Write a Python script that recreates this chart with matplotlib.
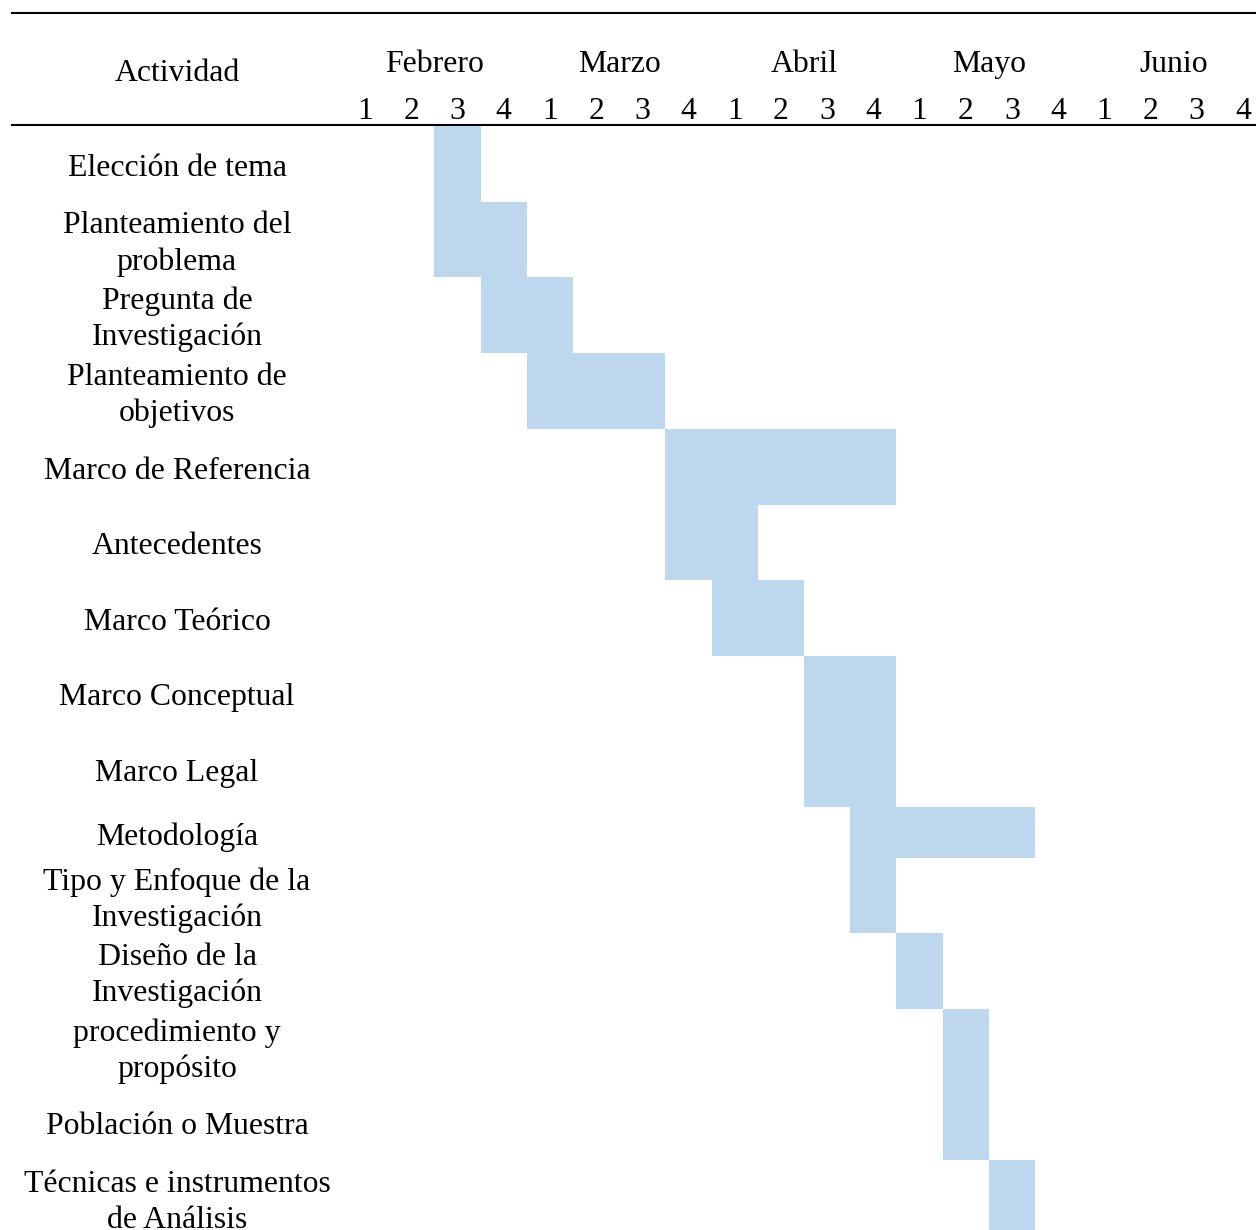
import matplotlib.pyplot as plt
import numpy as np

# actividades del cronograma y semanas (indice 0 = semana 1 de febrero)
actividades = ["Elección de tema",
               "Planteamiento del\nproblema",
               "Pregunta de\nInvestigación",
               "Planteamiento de\nobjetivos",
               "Marco de Referencia",
               "Antecedentes",
               "Marco Teórico",
               "Marco Conceptual",
               "Marco Legal",
               "Metodología",
               "Tipo y Enfoque de la\nInvestigación",
               "Diseño de la\nInvestigación",
               "procedimiento y\npropósito",
               "Población o Muestra",
               "Técnicas e instrumentos\nde Análisis"]
inicio = [2, 2, 3, 4, 7, 7, 8, 10, 10, 11, 11, 12, 13, 13, 14]
duracion = [1, 2, 2, 3, 5, 2, 2, 2, 2, 4, 1, 1, 1, 1, 1]
meses = ["Febrero", "Marzo", "Abril", "Mayo", "Junio"]
semanas = ["1", "2", "3", "4"]

# alto de cada fila en pixeles
alto_fila = [76, 75, 76, 76, 76, 75, 76, 75, 76, 51, 75, 76, 76, 75, 76]
y0 = 126
col_x0, col_w = 342, 46.2

plt.rcParams['font.family'] = ['Liberation Serif', 'DejaVu Serif']
fs = 22.9
celeste = '#BDD7EE'

fig = plt.figure(figsize=(12.56, 12.30), dpi=100)
ax = fig.add_axes([0, 0, 1, 1])
ax.set_xlim(0, 1256)
ax.set_ylim(1230, 0)
ax.axis('off')

nsem = len(meses) * len(semanas)
gx = fig.add_axes([col_x0 / 1256, 0, nsem * col_w / 1256, 1])
gx.set_xlim(0, nsem)
gx.set_ylim(1230, 0)
gx.axis('off')

# lineas del encabezado
ax.plot([11, 1256], [12.5, 12.5], color='black', lw=1.5, solid_capstyle='butt')
ax.plot([11, 1256], [125, 125], color='black', lw=1.5, solid_capstyle='butt')

ax.text(177, 81, "Actividad", ha='center', va='baseline', fontsize=fs)
for m, mes in enumerate(meses):
    gx.text(4 * m + 2, 72, mes, ha='center', va='baseline', fontsize=fs)
    for s, sem in enumerate(semanas):
        gx.text(4 * m + s + 0.5, 119, sem, ha='center', va='baseline', fontsize=fs)

# filas y barras
bordes = y0 + np.concatenate([[0], np.cumsum(alto_fila)])
for i, act in enumerate(actividades):
    top, h = bordes[i], alto_fila[i]
    gx.broken_barh([(inicio[i], duracion[i])], (top, h), facecolors=celeste,
                   edgecolor='none')
    ax.text(177, top + h / 2 + 4.5, act, ha='center', va='center', fontsize=fs,
            linespacing=1.29)

fig.savefig('out.png', dpi=100)
